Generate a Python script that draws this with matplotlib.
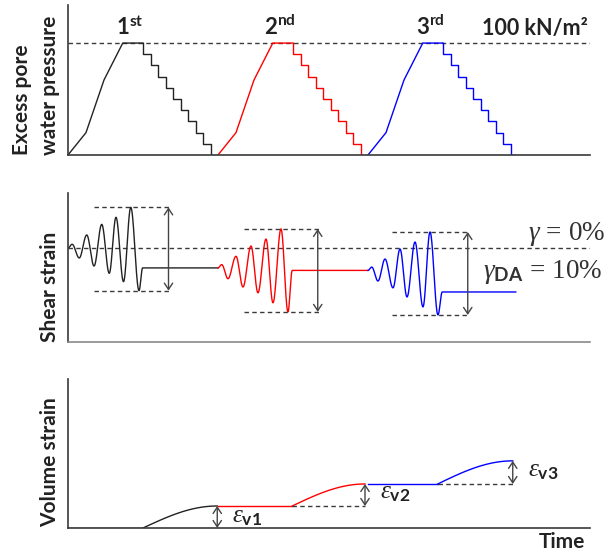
import numpy as np
import matplotlib.pyplot as plt

plt.rcParams['font.family'] = ['Lato', 'DejaVu Sans']
plt.rcParams['mathtext.fontset'] = 'custom'
plt.rcParams['mathtext.rm'] = 'Liberation Serif'
plt.rcParams['mathtext.it'] = 'Liberation Serif:italic'
plt.rcParams['mathtext.bf'] = 'Lato:bold'

# time in dissipation-step units, each loading stage lasts 20
stage_start = [0, 20, 40]
stage_color = ['#222222', 'red', 'blue']
stage_label = [r'$\mathbf{1^{st}}$', r'$\mathbf{2^{nd}}$', r'$\mathbf{3^{rd}}$']
t_end = 69.6

# excess pore water pressure (kN/m2), relative to stage start
pwp_rise_t = [0.0, 2.4, 4.8, 7.3, 10.0]
pwp_rise_u = [0, 20, 67, 100, 100]
pwp_drop_t = [10, 11, 12, 13, 14, 15, 16, 17, 18, 19]
pwp_levels = [100, 90, 80, 70, 60, 50, 40, 30, 20, 10, 0]
pwp_tail = 19.7
u_max = 100

# shear strain (%) turning points of each stage
shear_t = [
    [0.0, 0.55, 1.5, 2.5, 3.47, 4.5, 5.5, 6.4, 7.4, 8.37, 9.47, 9.95, 20.0],
    [20.0, 20.5, 21.33, 22.4, 23.33, 24.4, 25.33, 26.4, 27.33, 28.4, 29.33, 29.9, 40.0],
    [40.0, 40.5, 41.33, 42.27, 43.33, 44.27, 45.2, 46.27, 47.33, 48.27, 49.33, 49.9, 59.7],
]
shear_v = [
    [0.0, 0.45, -1.2, 1.57, -2.17, 2.85, -3.05, 3.7, -4.06, 4.9, -5.14, -2.4, -2.4],
    [-2.4, -2.0, -3.7, -1.0, -4.7, 0.24, -5.4, 1.08, -6.6, 2.3, -7.7, -2.7, -2.7],
    [-2.7, -2.3, -3.98, -1.33, -4.8, -0.12, -5.9, 0.72, -7.1, 1.93, -8.07, -5.3, -5.3],
]
da_top = [4.9, 2.3, 1.93]
da_bot = [-5.14, -7.7, -8.07]
da_from = [3.4, 23.4, 43.2]
da_to = [13.6, 33.5, 53.4]
da_arrow = [13.4, 33.3, 53.3]

# volume strain per stage: flat part, then settlement curve
vol_flat_t0 = [0.0, 20.0, 40.0]
vol_curve_t0 = [10.0, 29.9, 49.3]
vol_curve_t1 = [19.9, 39.6, 59.3]
vol_start = [0.0, 1.0, 2.0]
vol_end = [1.0, 2.0, 3.05]
vol_label = [r'$\varepsilon_{\mathbf{v1}}$', r'$\varepsilon_{\mathbf{v2}}$', r'$\varepsilon_{\mathbf{v3}}$']
vol_label_pos = [(21.9, 0.27), (41.6, 1.36), (61.3, 2.36)]

DASH = (0, (3.2, 2.4))
GREY = '#3a3a3a'


def smooth(ts, vs, n=40):
    # half-cosine between consecutive turning points
    xx, yy = [], []
    for i in range(len(ts) - 1):
        s = np.linspace(0, 1, n)
        xx.append(ts[i] + (ts[i + 1] - ts[i]) * s)
        yy.append(vs[i] + (vs[i + 1] - vs[i]) * (1 - np.cos(np.pi * s)) / 2)
    return np.concatenate(xx), np.concatenate(yy)


def dbl_arrow(ax, x, y0, y1):
    ax.annotate('', xy=(x, y1), xytext=(x, y0),
                arrowprops=dict(arrowstyle='<->,head_length=0.45,head_width=0.3',
                                color='#444444', lw=1.0, shrinkA=0, shrinkB=0))


def style(ax, ymin, ymax, bottom_color=GREY):
    ax.set_xlim(0, t_end)
    ax.set_ylim(ymin, ymax)
    for s in ['top', 'right']:
        ax.spines[s].set_visible(False)
    ax.spines['left'].set_color(GREY)
    ax.spines['bottom'].set_color(bottom_color)
    ax.spines['left'].set_linewidth(1.2)
    ax.spines['bottom'].set_linewidth(1.2)
    ax.set_xticks([])
    ax.set_yticks([])
    ax.patch.set_alpha(0)


W, H = 613, 553
fig = plt.figure(figsize=(W / 100, H / 100), dpi=100)


def px_axes(x0, y0, x1, y1):
    return fig.add_axes([x0 / W, 1 - y1 / H, (x1 - x0) / W, (y1 - y0) / H])


ax1 = px_axes(68, 5, 590, 155)
ax2 = px_axes(68, 193, 590, 342)
ax3 = px_axes(68, 379, 590, 528)

# --- excess pore water pressure
style(ax1, 0, 134)
ax1.plot([0, t_end], [u_max, u_max], color=GREY, lw=1.0, ls=DASH)
for t0, c, lab in zip(stage_start, stage_color, stage_label):
    ax1.plot(np.array(pwp_rise_t) + t0, pwp_rise_u, color=c, lw=1.0)
    xs = np.array([pwp_drop_t[0]] + pwp_drop_t + [pwp_tail]) + t0
    ys = pwp_levels + [0]
    ax1.step(xs, ys, where='post', color=c, lw=1.0)
    ax1.text(t0 + 8.3, 107, lab, ha='center', va='baseline', fontsize=16, color='#222222')
ax1.text(69.3, 107, '100 kN/m²', ha='right', va='baseline', fontsize=15.5,
         fontweight='bold', color='#222222')

# --- shear strain
style(ax2, -11.33, 6.63, bottom_color='#8a8a8a')
ax2.plot([0, t_end], [0, 0], color=GREY, lw=1.0, ls=DASH)
for i, c in enumerate(stage_color):
    x, y = smooth(shear_t[i], shear_v[i])
    ax2.plot(x, y, color=c, lw=1.0)
    ax2.plot([da_from[i], da_to[i]], [da_top[i]] * 2, color=GREY, lw=1.0, ls=DASH)
    ax2.plot([da_from[i], da_to[i]], [da_bot[i]] * 2, color=GREY, lw=1.0, ls=DASH)
    dbl_arrow(ax2, da_arrow[i], da_bot[i], da_top[i])
ax2.text(61.3, 0.96, r'$\gamma\,=\,0\%$', fontsize=19.5, color='#333333', va='baseline')
ax2.text(55.3, -3.6, r'$\gamma_{\mathbf{DA}}\,=\,10\%$', fontsize=19.5, color='#333333', va='baseline')

# --- volume strain
style(ax3, 0, 6.77)
for i, c in enumerate(stage_color):
    ax3.plot([vol_flat_t0[i], vol_curve_t0[i]], [vol_start[i]] * 2, color=c, lw=1.0)
    s = np.linspace(0, 1, 60)
    tt = vol_curve_t0[i] + (vol_curve_t1[i] - vol_curve_t0[i]) * s
    ax3.plot(tt, vol_start[i] + (vol_end[i] - vol_start[i]) * np.sin(np.pi / 2 * s), color=c, lw=1.0)
    if i > 0:
        ax3.plot([vol_curve_t0[i], vol_curve_t1[i]], [vol_start[i]] * 2, color=GREY, lw=1.0, ls=DASH)
    dbl_arrow(ax3, vol_curve_t1[i], vol_start[i], vol_end[i])
    ax3.text(*vol_label_pos[i], vol_label[i], fontsize=18, color='#222222', va='baseline')
ax3.text(68.9, -0.9, 'Time', ha='right', va='baseline', fontsize=15,
         fontweight='bold', color='#222222', clip_on=False)

# --- axis titles
ylab = dict(rotation=90, ha='center', va='bottom', fontsize=15, fontweight='bold', color='#222222')
fig.text(22 / W, 1 - 155 / H, 'Excess pore', **ylab)
fig.text(50 / W, 1 - 155 / H, 'water pressure', **ylab)
fig.text(50 / W, 1 - 342 / H, 'Shear strain', **ylab)
fig.text(50 / W, 1 - 527 / H, 'Volume strain', **ylab)

fig.savefig('out.png', dpi=100)
